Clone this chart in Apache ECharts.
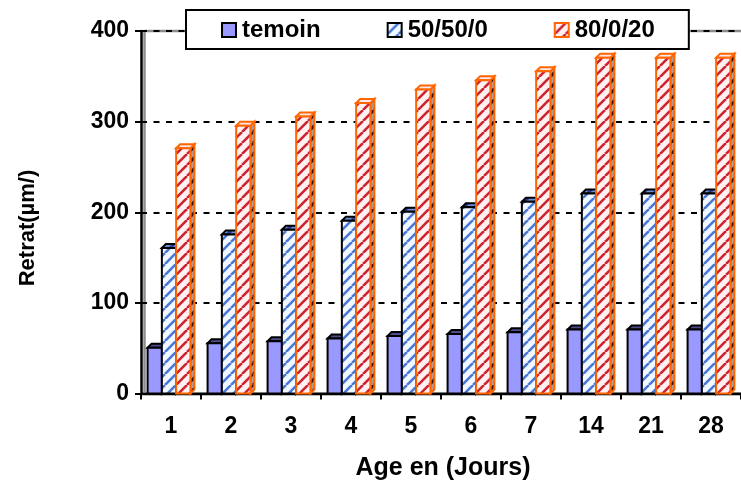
<!DOCTYPE html>
<html>
<head>
<meta charset="utf-8">
<style>
  html, body { margin: 0; padding: 0; background: #fff; }
  #chart { width: 741px; height: 490px; }
</style>
<script src="https://cdn.jsdelivr.net/npm/echarts@6/dist/echarts.min.js"></script>
</head>
<body>
<div id="chart"></div>
<script>
// Shrinkage by age, three mixes
const ages = ['1', '2', '3', '4', '5', '6', '7', '14', '21', '28'];
const temoin = [55, 60, 62, 65, 68, 70, 72, 75, 75, 75];
const mix505 = [165, 180, 185, 195, 205, 210, 216, 225, 225, 225];
const mix8020 = [275, 300, 310, 325, 340, 350, 360, 375, 375, 375];
const seriesNames = ['temoin', '50/50/0', '80/0/20'];
const yTicks = [0, 100, 200, 300, 400];

const FONT = '"Liberation Sans", Arial, sans-serif';

// Diagonal hatch tile ("/" stripes)
function hatch(bg, fg, size, lw) {
  const c = document.createElement('canvas');
  c.width = c.height = size;
  const g = c.getContext('2d');
  g.fillStyle = bg;
  g.fillRect(0, 0, size, size);
  g.strokeStyle = fg;
  g.lineWidth = lw;
  g.beginPath();
  for (let k = -1; k <= 1; k++) {
    g.moveTo(k * size, size);
    g.lineTo(k * size + size, 0);
  }
  g.stroke();
  return c;
}
const bluePat = { image: hatch('#f2f8ff', '#4a78d8', 11, 2.6), repeat: 'repeat' };
const blueTopPat = { image: hatch('#6f8fd8', '#2a3f99', 11, 3), repeat: 'repeat' };
const redPat = { image: hatch('#fff0f2', '#cc2430', 11, 2.6), repeat: 'repeat' };
const redSidePat = { image: hatch('#b09a9a', '#3a1010', 11, 3), repeat: 'repeat' };

const styles = [
  { front: '#9999ff', top: '#4d4d8c', side: '#5f5fa8', stroke: '#000000' },
  { front: bluePat, top: blueTopPat, side: '#3a4f99', stroke: '#000000' },
  { front: redPat, top: '#ffe6ea', side: redSidePat, stroke: '#ff6600' }
];

const DEPTH = 4;

function makeRender(si) {
  const st = styles[si];
  return function (params, api) {
    const cat = api.value(0);
    const val = api.value(1);
    const base = api.coord([cat, 0]);
    const back = api.coord([cat, val]);
    const band = api.size([1, 0])[0];
    const w = band * 0.238;
    const x0 = base[0] - 1.5 * w - 2 + si * w;
    const y0 = base[1];
    const yf = back[1] + DEPTH;
    const d = DEPTH;
    const line = { stroke: st.stroke, lineWidth: 2, lineJoin: 'miter' };
    return {
      type: 'group',
      children: [
        {
          type: 'polygon',
          shape: { points: [[x0 + w, yf], [x0 + w + d, yf - d], [x0 + w + d, y0 - d], [x0 + w, y0]] },
          style: Object.assign({ fill: st.side }, line)
        },
        {
          type: 'polygon',
          shape: { points: [[x0, yf], [x0 + w, yf], [x0 + w + d, yf - d], [x0 + d, yf - d]] },
          style: Object.assign({ fill: st.top }, line)
        },
        {
          type: 'rect',
          shape: { x: x0, y: yf, width: w, height: y0 - yf },
          style: Object.assign({ fill: st.front }, line)
        }
      ]
    };
  };
}

const seriesData = [temoin, mix505, mix8020];

const GRID_LEFT = 141, GRID_TOP = 31, GRID_BOTTOM_Y = 393.5;

const chart = echarts.init(document.getElementById('chart'), null, { renderer: 'canvas' });
chart.setOption({
  animation: false,
  backgroundColor: '#ffffff',
  grid: { left: GRID_LEFT, right: 0, top: GRID_TOP, bottom: 490 - GRID_BOTTOM_Y },
  legend: {
    left: 186, top: 10,
    padding: [8, 34, 7, 35],
    itemGap: 66,
    itemWidth: 14, itemHeight: 14,
    borderColor: '#000', borderWidth: 2,
    backgroundColor: '#ffffff',
    z: 20,
    textStyle: { fontFamily: FONT, fontWeight: 'bold', fontSize: 24, color: '#000', padding: [0, 0, 0, 1] },
    data: [
      { name: seriesNames[0], icon: 'rect', itemStyle: { color: '#9999ff', borderColor: '#000', borderWidth: 2 } },
      { name: seriesNames[1], icon: 'rect', itemStyle: { color: bluePat, borderColor: '#000', borderWidth: 2 } },
      { name: seriesNames[2], icon: 'rect', itemStyle: { color: redPat, borderColor: '#ff6600', borderWidth: 2 } }
    ]
  },
  xAxis: {
    type: 'category',
    data: ages,
    offset: 3,
    boundaryGap: true,
    axisLine: { lineStyle: { color: '#000', width: 2 } },
    axisTick: { show: true, length: 6, lineStyle: { color: '#000', width: 2 } },
    axisLabel: { margin: 19, fontFamily: FONT, fontWeight: 'bold', fontSize: 23, color: '#000' },
    splitLine: { show: false }
  },
  yAxis: {
    type: 'value',
    min: yTicks[0], max: yTicks[yTicks.length - 1], interval: 100,
    axisLine: { show: true, lineStyle: { color: '#000', width: 2.5 } },
    axisTick: { show: true, length: 6, lineStyle: { color: '#000', width: 2 } },
    axisLabel: { margin: 12, fontFamily: FONT, fontWeight: 'bold', fontSize: 23, color: '#000' },
    splitLine: { show: true, lineStyle: { color: '#000', width: 2, type: [6, 6.5] } }
  },
  graphic: [
    // back wall edges and floor
    { type: 'line', z: -1, shape: { x1: 144.5, y1: GRID_TOP, x2: 741, y2: GRID_TOP }, style: { stroke: '#8c8c8c', lineWidth: 2.5 } },
    { type: 'line', z: -1, shape: { x1: 144.5, y1: GRID_TOP, x2: 144.5, y2: GRID_BOTTOM_Y }, style: { stroke: '#8c8c8c', lineWidth: 2.5 } },
    { type: 'rect', z: -1, shape: { x: 141, y: 392, width: 600, height: 3.5 }, style: { fill: '#7a7a7a' } },
    // axis titles
    {
      type: 'text', x: 28, y: 228, rotation: Math.PI / 2,
      style: { text: 'Retrat(µm/)', fontFamily: FONT, fontWeight: 'bold', fontSize: 22, fill: '#000', align: 'center', verticalAlign: 'middle' }
    },
    {
      type: 'text', x: 443, y: 468,
      style: { text: 'Age en (Jours)', fontFamily: FONT, fontWeight: 'bold', fontSize: 25, fill: '#000', align: 'center', verticalAlign: 'middle' }
    }
  ],
  series: seriesNames.map(function (name, si) {
    return {
      name: name,
      type: 'custom',
      clip: false,
      z: 5 + si,
      itemStyle: { color: si === 0 ? '#9999ff' : (si === 1 ? bluePat : redPat) },
      renderItem: makeRender(si),
      encode: { x: 0, y: 1 },
      data: seriesData[si].map(function (v, i) { return [i, v]; })
    };
  })
});
</script>
</body>
</html>
